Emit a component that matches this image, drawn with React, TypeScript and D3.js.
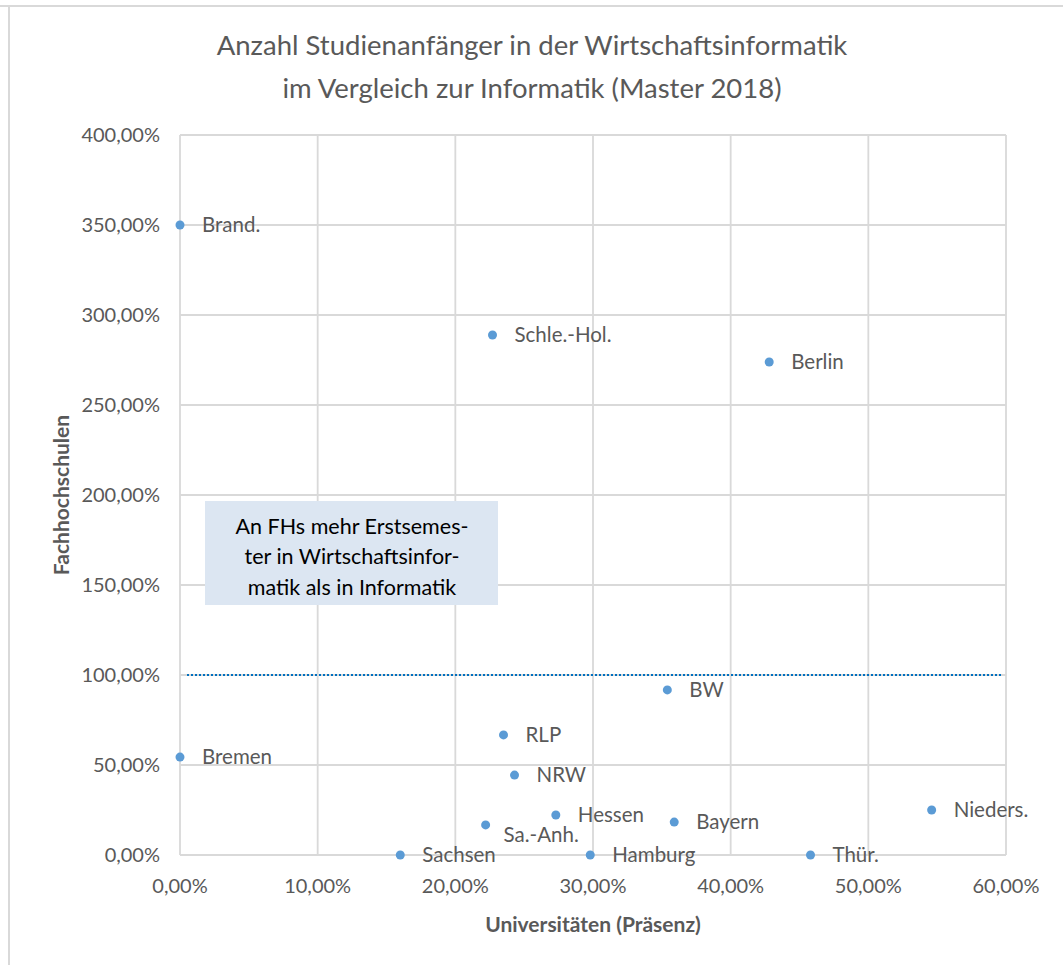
import * as d3 from 'd3';

const states = ['Brand.', 'Schle.-Hol.', 'Berlin', 'BW', 'RLP', 'NRW', 'Hessen', 'Sa.-Anh.', 'Bayern', 'Nieders.', 'Sachsen', 'Hamburg', 'Thür.', 'Bremen'];
const uni = [0, 22.7, 42.8, 35.4, 23.5, 24.3, 27.3, 22.2, 35.9, 54.6, 16.0, 29.8, 45.8, 0];
const fh = [350, 288.9, 273.9, 91.7, 66.7, 44.4, 22.2, 16.7, 18.3, 25.0, 0, 0, 0, 54.4];
const xTicks = [0, 10, 20, 30, 40, 50, 60];
const yTicks = [0, 50, 100, 150, 200, 250, 300, 350, 400];
const threshold = 100;
const noteLines = ['An FHs mehr Erstsemes-', 'ter in Wirtschaftsinfor-', 'matik als in Informatik'];

const fmt = (v: number) => v.toFixed(2).replace('.', ',') + '%';
const font = 'Lato, "Open Sans", sans-serif';

export default function App() {
  const width = 1063;
  const height = 965;
  const x = d3.scaleLinear().domain([0, 60]).range([180, 1006]);
  const y = d3.scaleLinear().domain([0, 400]).range([855, 135]);

  return (
    <svg width={width} height={height} style={{ position: 'absolute', left: 0, top: 0, background: '#fff' }} fontFamily={font}>
      <line x1={0} x2={width} y1={6} y2={6} stroke="#d9d9d9" strokeWidth={2} />
      <line x1={9} x2={9} y1={6} y2={height} stroke="#d9d9d9" strokeWidth={2} />

      {/* chart title, two lines */}
      <text x={532} y={45} dy="0.35em" textAnchor="middle" fontSize={27.5} fill="#595959">Anzahl Studienanfänger in der Wirtschaftsinformatik</text>
      <text x={532} y={88} dy="0.35em" textAnchor="middle" fontSize={27.5} fill="#595959">im Vergleich zur Informatik (Master 2018)</text>

      {xTicks.map((t) => (
        <line key={'gx' + t} x1={x(t)} x2={x(t)} y1={y(400)} y2={y(0)} stroke="#d9d9d9" strokeWidth={1.8} />
      ))}
      {yTicks.map((t) => (
        <line key={'gy' + t} x1={x(0)} x2={x(60)} y1={y(t)} y2={y(t)} stroke="#d9d9d9" strokeWidth={1.8} />
      ))}

      {yTicks.map((t) => (
        <text key={'ty' + t} x={x(0) - 20} y={y(t)} dy="0.35em" textAnchor="end" fontSize={20} fill="#595959">{fmt(t)}</text>
      ))}
      {xTicks.map((t) => (
        <text key={'tx' + t} x={x(t)} y={y(0) + 31} dy="0.35em" textAnchor="middle" fontSize={20} fill="#595959">{fmt(t)}</text>
      ))}

      <text x={x(30)} y={925} dy="0.35em" textAnchor="middle" fontSize={21} fontWeight="bold" fill="#595959">Universitäten (Präsenz)</text>
      <text transform={`translate(62,${y(200)}) rotate(-90)`} dy="0.35em" textAnchor="middle" fontSize={21} fontWeight="bold" fill="#595959">Fachhochschulen</text>

      {/* annotation box */}
      <rect x={205} y={501} width={293} height={104} fill="#dce6f2" />
      {noteLines.map((l, i) => (
        <text key={l} x={352} y={526 + i * 30.5} dy="0.35em" textAnchor="middle" fontSize={21.5} fill="#000">{l}</text>
      ))}

      <line x1={x(0) + 7} x2={x(60) - 4} y1={y(threshold)} y2={y(threshold)} stroke="#0070c0" strokeWidth={2.2} strokeDasharray="2 2" />

      {states.map((s, i) => {
        const below = s === 'Sa.-Anh.';
        return (
          <g key={s}>
            <circle cx={x(uni[i])} cy={y(fh[i])} r={4.5} fill="#5b9bd5" />
            <text
              x={x(uni[i]) + (below ? 18 : 22)}
              y={y(fh[i]) + (below ? 10 : 0)}
              dy="0.35em"
              fontSize={20.5}
              fill="#595959"
            >
              {s}
            </text>
          </g>
        );
      })}
    </svg>
  );
}
